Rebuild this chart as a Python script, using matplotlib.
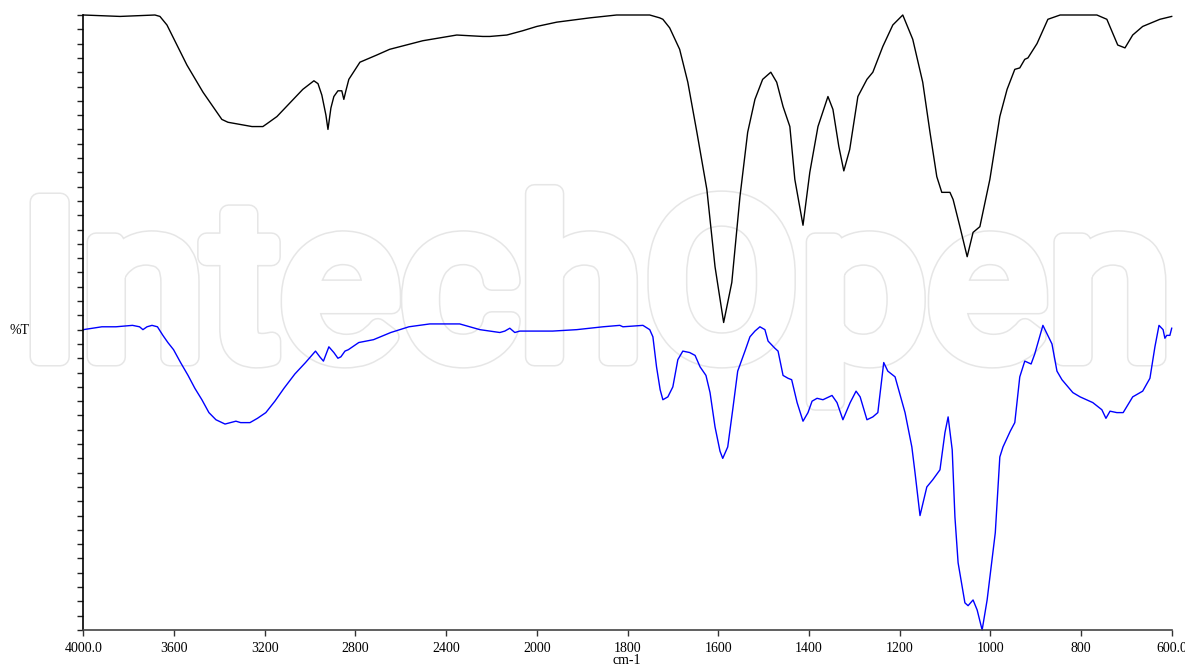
import numpy as np
import matplotlib
matplotlib.use('Agg')
import matplotlib.pyplot as plt
from matplotlib.textpath import TextPath
from matplotlib.font_manager import FontProperties
from matplotlib.patches import PathPatch
from matplotlib.transforms import Affine2D, IdentityTransform

# Wavenumber axis (cm-1), expanded x2 below 2000
X_TICKS = [4000, 3600, 3200, 2800, 2400, 2000, 1800, 1600, 1400, 1200, 1000, 800, 600]
X_LABELS = ['4000.0', '3600', '3200', '2800', '2400', '2000', '1800', '1600',
            '1400', '1200', '1000', '800', '600.0']

# upper spectrum (black)
black_wn = [4000, 3838, 3684, 3662, 3631, 3543, 3472, 3389, 3362, 3256, 3208, 3190,
            3146, 3032, 2983, 2965, 2948, 2930, 2921, 2908, 2895, 2877, 2860, 2851,
            2842, 2829, 2780, 2706, 2649, 2503, 2353, 2238, 2207, 2132, 2062, 2000,
            1956, 1883, 1824, 1751, 1729, 1722, 1707, 1685, 1667, 1647, 1625, 1607,
            1588, 1570, 1552, 1535, 1519, 1502, 1484, 1471, 1457, 1442, 1431, 1413,
            1398, 1380, 1358, 1347, 1334, 1323, 1310, 1292, 1272, 1259, 1237, 1215,
            1193, 1171, 1149, 1133, 1118, 1107, 1089, 1082, 1067, 1051, 1038, 1023,
            1001, 979, 963, 946, 935, 924, 917, 897, 873, 846, 765, 743, 719, 703,
            686, 664, 626, 600]
black_t = [43.0, 42.9, 43.0, 42.9, 42.3, 39.5, 37.6, 35.7, 35.5, 35.2, 35.2, 35.4,
           35.9, 37.8, 38.4, 38.2, 37.4, 36.0, 35.0, 36.5, 37.3, 37.7, 37.7, 37.1,
           37.7, 38.5, 39.7, 40.2, 40.6, 41.2, 41.6, 41.5, 41.5, 41.6, 41.9, 42.2,
           42.5, 42.8, 43.0, 43.0, 42.8, 42.7, 42.1, 40.6, 38.3, 34.8, 30.8, 25.4,
           21.5, 24.3, 30.3, 34.8, 37.1, 38.5, 39.0, 38.3, 36.6, 35.2, 31.5, 28.3,
           32.0, 35.2, 37.3, 36.4, 33.8, 32.1, 33.6, 37.3, 38.5, 39.0, 40.8, 42.3,
           43.0, 41.3, 38.3, 34.8, 31.7, 30.6, 30.6, 30.1, 28.2, 26.1, 27.8, 28.2,
           31.5, 35.9, 37.8, 39.2, 39.3, 39.9, 40.0, 41.0, 42.7, 43.0, 43.0, 42.7,
           40.9, 40.7, 41.6, 42.2, 42.7, 42.9]

# lower spectrum (blue)
blue_wn = [4000, 3918, 3856, 3783, 3752, 3737, 3719, 3697, 3673, 3649, 3627, 3602,
           3571, 3538, 3508, 3477, 3446, 3415, 3375, 3350, 3327, 3306, 3265, 3232,
           3195, 3155, 3115, 3067, 3020, 2976, 2957, 2941, 2917, 2895, 2877, 2864,
           2846, 2831, 2785, 2720, 2644, 2564, 2472, 2340, 2251, 2163, 2141, 2119,
           2097, 2075, 2000, 1965, 1912, 1854, 1817, 1810, 1766, 1751, 1744, 1736,
           1728, 1722, 1711, 1700, 1689, 1678, 1663, 1651, 1640, 1627, 1618, 1607,
           1596, 1590, 1579, 1568, 1557, 1541, 1530, 1519, 1508, 1497, 1490, 1475,
           1468, 1457, 1446, 1438, 1426, 1413, 1402, 1393, 1382, 1369, 1349, 1338,
           1325, 1309, 1296, 1287, 1272, 1259, 1248, 1235, 1226, 1210, 1188, 1173,
           1166, 1155, 1140, 1127, 1111, 1100, 1093, 1084, 1078, 1071, 1056, 1049,
           1038, 1029, 1018, 1007, 989, 979, 972, 956, 946, 935, 924, 910, 902, 884,
           864, 853, 842, 818, 802, 774, 754, 745, 736, 721, 707, 686, 664, 648, 637,
           628, 619, 615, 611, 604, 600]
blue_t = [21.0, 21.2, 21.2, 21.3, 21.2, 21.0, 21.2, 21.3, 21.2, 20.6, 20.1, 19.6,
          18.7, 17.8, 16.9, 16.1, 15.2, 14.7, 14.4, 14.5, 14.6, 14.5, 14.5, 14.8,
          15.2, 16.0, 16.9, 17.9, 18.7, 19.5, 19.1, 18.8, 19.8, 19.4, 19.0, 19.1,
          19.5, 19.6, 20.1, 20.3, 20.8, 21.2, 21.4, 21.4, 21.0, 20.8, 20.9, 21.1,
          20.8, 20.9, 20.9, 20.9, 21.0, 21.2, 21.3, 21.2, 21.3, 21.0, 20.5, 18.4,
          16.8, 16.1, 16.3, 17.0, 18.9, 19.5, 19.4, 19.2, 18.4, 17.8, 16.6, 14.2,
          12.5, 12.0, 12.8, 15.4, 18.1, 19.5, 20.5, 20.9, 21.2, 21.0, 20.2, 19.7,
          19.5, 17.8, 17.6, 17.5, 15.9, 14.6, 15.2, 16.0, 16.2, 16.1, 16.4, 15.9,
          14.7, 15.9, 16.7, 16.3, 14.7, 14.9, 15.2, 18.7, 18.1, 17.7, 15.2, 12.8,
          11.0, 8.0, 10.0, 10.5, 11.2, 13.8, 14.9, 12.6, 7.9, 4.7, 1.9, 1.7,
          2.1, 1.4, 0.0, 2.1, 6.8, 12.1, 12.8, 13.9, 14.5, 17.7, 18.8, 18.6, 19.3, 21.3,
          20.0, 18.1, 17.5, 16.6, 16.3, 15.9, 15.4, 14.8, 15.3, 15.2, 15.2, 16.3, 16.7,
          17.6, 19.8, 21.3, 21.0, 20.4, 20.6, 20.6, 21.1]

SERIF = ['Liberation Serif', 'DejaVu Serif']
W, H = 1185, 666


def fwd(w):
    w = np.asarray(w, dtype=float)
    return np.where(w >= 2000, w, 2 * w - 2000)


def inv(u):
    u = np.asarray(u, dtype=float)
    return np.where(u >= 2000, u, (u + 2000) / 2)


fig = plt.figure(figsize=(W / 100, H / 100), dpi=100)

# watermark: hollow outlined text. The glyphs are fattened with a wide stroke
# (grey, then white on top), so the path is fitted to a box inset by GROW px.
GROW = 8
prop = FontProperties(family='Roboto', weight='normal')
tp = TextPath((0, 0), 'IntechOpen', size=100, prop=prop)
cap = TextPath((0, 0), 'I', size=100, prop=prop).get_extents()
ext = tp.get_extents()
x0, x1, top, base = 31 + GROW, 1165 - GROW, 194 + GROW, 365 - GROW
tr = (Affine2D().translate(-ext.x0, 0)
      .scale((x1 - x0) / ext.width, (base - top) / cap.y1)
      .translate(x0, H - base))
path = tr.transform_path(tp)
lw_pt = 2 * GROW * 72 / 100
for col, lw in [('#e6e6e6', lw_pt + 2.2), ('white', lw_pt)]:
    fig.add_artist(PathPatch(path, facecolor='white', edgecolor=col, lw=lw,
                             joinstyle='round', transform=IdentityTransform(),
                             zorder=-1))

ax = fig.add_axes([83.3 / W, 36 / H, 1088.4 / W, 615 / H])
ax.patch.set_alpha(0)
ax.set_xscale('function', functions=(fwd, inv))
ax.set_xlim(4000, 600)
ax.set_ylim(0, 43)

ax.plot(black_wn, black_t, color='black', lw=1.0, clip_on=False)
ax.plot(blue_wn, blue_t, color='#0000ff', lw=1.0, clip_on=False)

ax.set_xticks(X_TICKS)
ax.set_xticklabels(X_LABELS, family=SERIF, fontsize=10)
ax.xaxis.set_minor_locator(plt.NullLocator())
ax.set_yticks(np.arange(0, 44, 1))
ax.set_yticklabels([])
ax.tick_params(axis='x', length=4, width=1, pad=5, color='#333333')
ax.tick_params(axis='y', length=4, width=1, color='#222222')

for s in ['top', 'right']:
    ax.spines[s].set_visible(False)
ax.spines['left'].set_color('black')
ax.spines['bottom'].set_color('#444444')
ax.spines['left'].set_linewidth(1.2)
ax.spines['bottom'].set_linewidth(1.2)

fig.text(627 / W, 1 - 661 / H, 'cm-1', ha='center', va='center',
         family=SERIF, fontsize=10)
fig.text(19 / W, 1 - 330 / H, '%T', ha='center', va='center',
         family=SERIF, fontsize=10)

fig.savefig('out.png', dpi=100)
